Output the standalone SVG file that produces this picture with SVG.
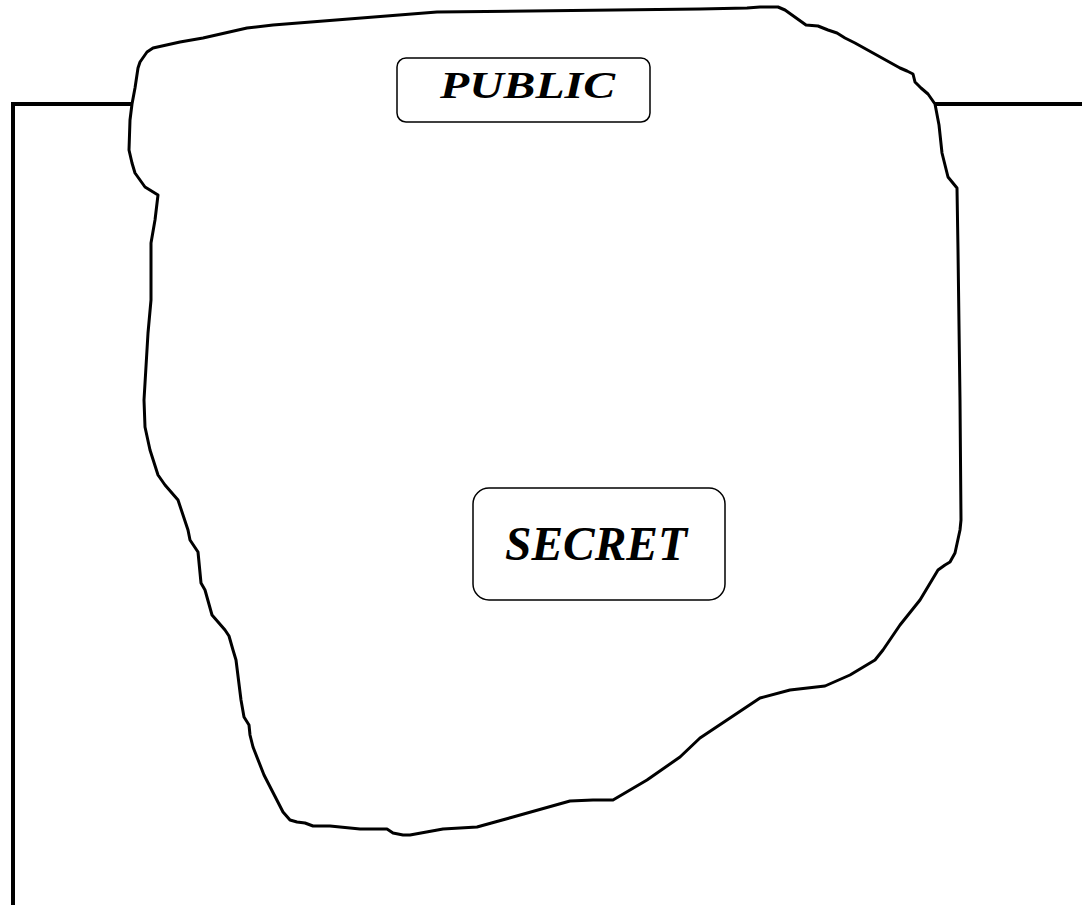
<svg xmlns="http://www.w3.org/2000/svg" width="1082" height="905" viewBox="0 0 1082 905">
<style>
.frame{fill:none;stroke:#000;stroke-width:4;stroke-linejoin:miter}
.blob{fill:#fff;stroke:#000;stroke-width:3;stroke-linejoin:round}
.box{fill:#fff;stroke:#000;stroke-width:1.5}
.lbl{font-family:"Liberation Serif","Times New Roman",serif;font-weight:bold;font-style:italic;fill:#000}
</style>
<rect width="1082" height="905" fill="#fff"/>
<g id="connectors">
<polyline class="frame" points="134,104 13,104 13,905"/>
<line class="frame" x1="933" y1="104" x2="1082" y2="104"/>
</g>
<g id="public-area">
<path class="blob" d="M147 52 L153 48 L180 42 L203 38 L247 28 L273 25 L437 12 L700 9 L747 8 L760 7 L778 7 L785 10 L806 25 L818 26 L828 30 L837 33 L845 38 L855 43 L900 68 L907 71 L913 74 L915 82 L921 88 L928 94 L935 104 L939 125 L942 153 L948 177 L957 188 L958 250 L960 400 L961 520 L960 530 L955 553 L950 562 L945 565 L938 570 L935 575 L920 600 L900 625 L883 650 L875 660 L850 675 L825 686 L790 690 L760 698 L700 738 L680 757 L647 780 L613 800 L593 800 L570 801 L513 817 L477 827 L443 829 L410 835 L403 835 L393 833 L387 829 L360 829 L330 826 L313 826 L305 823 L297 822 L290 820 L283 812 L264 775 L253 747 L250 735 L249 725 L244 717 L241 700 L236 660 L233 650 L229 636 L225 630 L212 615 L205 590 L201 583 L198 552 L190 540 L188 530 L178 500 L165 485 L158 475 L150 450 L145 427 L144 400 L148 333 L151 300 L151 243 L155 220 L158 195 L145 187 L135 173 L132 163 L129 150 L130 120 L132 104 L135 88 L138 68 L140 62 Z"/>
</g>
<g id="public">
<rect class="box" x="397" y="58" width="253" height="64" rx="9"/>
<text class="lbl" x="440" y="98" font-size="38" textLength="175" lengthAdjust="spacingAndGlyphs">PUBLIC</text>
</g>
<g id="secret">
<rect class="box" x="473" y="488" width="252" height="112" rx="16"/>
<text class="lbl" x="505" y="560" font-size="48" textLength="182" lengthAdjust="spacingAndGlyphs">SECRET</text>
</g>
</svg>
